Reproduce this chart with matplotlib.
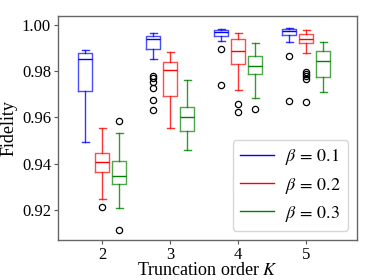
import matplotlib
matplotlib.use("Agg")
import matplotlib.pyplot as plt
from matplotlib.lines import Line2D

plt.rcParams['font.family'] = ['Liberation Serif', 'DejaVu Serif']
plt.rcParams['mathtext.fontset'] = 'stix'

orders = [2, 3, 4, 5]
betas = ["0.1", "0.2", "0.3"]
colors = ["#0000ff", "#ff0000", "#008000"]

# per beta, per K: (whislo, q1, med, q3, whishi)
stats_b1 = [(0.9493, 0.9716, 0.9852, 0.9878, 0.9892),
            (0.9852, 0.9896, 0.9939, 0.9952, 0.9967),
            (0.9929, 0.9952, 0.9968, 0.9978, 0.9984),
            (0.9925, 0.9957, 0.9973, 0.9983, 0.9988)]
stats_b2 = [(0.9246, 0.9363, 0.9406, 0.9448, 0.9553),
            (0.9553, 0.9694, 0.9804, 0.9841, 0.9882),
            (0.9720, 0.9830, 0.9886, 0.9938, 0.9964),
            (0.9880, 0.9921, 0.9941, 0.9960, 0.9977)]
stats_b3 = [(0.9210, 0.9314, 0.9346, 0.9412, 0.9532),
            (0.9459, 0.9542, 0.9601, 0.9647, 0.9763),
            (0.9683, 0.9788, 0.9821, 0.9867, 0.9924),
            (0.9710, 0.9775, 0.9843, 0.9889, 0.9926)]
fliers_b1 = [[],
             [0.9779, 0.9772, 0.9755, 0.9726, 0.9677, 0.9631],
             [0.9896, 0.9739],
             [0.9867, 0.9673]]
fliers_b2 = [[0.9214],
             [],
             [0.9658, 0.9624],
             [0.9797, 0.9788, 0.9778, 0.9766, 0.9668]]
fliers_b3 = [[0.9586, 0.9113],
             [],
             [0.9637],
             []]

all_stats = [stats_b1, stats_b2, stats_b3]
all_fliers = [fliers_b1, fliers_b2, fliers_b3]
offsets = [-0.25, 0.0, 0.25]

fig = plt.figure(figsize=(3.74, 2.80), dpi=100)
ax = fig.add_axes([0.155, 0.143, 0.80, 0.80])

for st, fl, off, c in zip(all_stats, all_fliers, offsets, colors):
    bstats = []
    for (lo, q1, med, q3, hi), f in zip(st, fl):
        bstats.append(dict(whislo=lo, q1=q1, med=med, q3=q3, whishi=hi, fliers=f))
    pos = [k + off for k in orders]
    ax.bxp(bstats, positions=pos, widths=0.2, showfliers=True,
           boxprops=dict(color=c, lw=1.0, alpha=0.7),
           medianprops=dict(color=c, lw=1.0),
           whiskerprops=dict(color=c, lw=1.0, alpha=0.8),
           capprops=dict(color=c, lw=1.0, alpha=0.8),
           flierprops=dict(marker='o', markerfacecolor='none', markeredgecolor='black',
                           markersize=4.5, markeredgewidth=0.9))

ax.set_xlim(1.35, 5.75)
ax.set_ylim(0.907, 1.0039)
ax.set_xticks(orders)
ax.set_xticklabels([str(k) for k in orders])
ax.set_yticks([0.92, 0.94, 0.96, 0.98, 1.00])
ax.set_yticklabels(["0.92", "0.94", "0.96", "0.98", "1.00"])
ax.tick_params(labelsize=12, color='#555555', length=3, width=0.8, pad=2)
for s in ax.spines.values():
    s.set_color('#666666')
    s.set_linewidth(1.0)

ax.set_xlabel("Truncation order $K$", fontsize=13, labelpad=-1)
ax.set_ylabel("Fidelity", fontsize=13, labelpad=3)
ax.yaxis.set_label_coords(-0.135, 0.5)

handles = [Line2D([0], [0], color=c, lw=1.0) for c in colors]
labels = [r"$\beta\,=\,%s$" % b for b in betas]
ax.legend(handles, labels, loc='lower right', fontsize=13, frameon=True,
          handlelength=1.9, handletextpad=0.6, borderaxespad=0.5,
          labelspacing=0.45, borderpad=0.4)

fig.savefig("out.png", dpi=100)
